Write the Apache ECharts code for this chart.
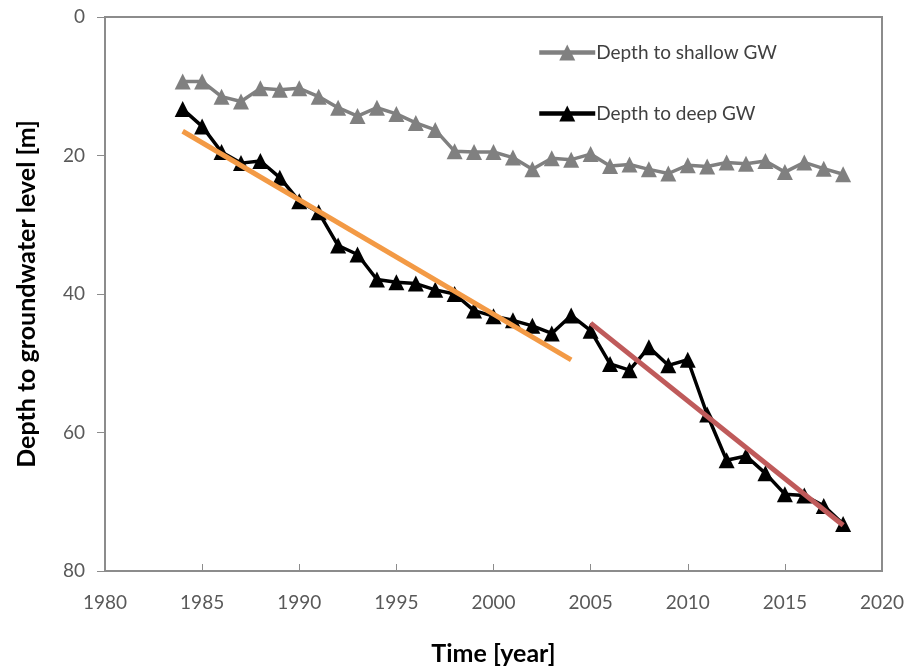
<!DOCTYPE html>
<html>
<head>
<meta charset="utf-8">
<script src="https://cdn.jsdelivr.net/npm/echarts@6/dist/echarts.min.js"></script>
<style>
  html, body { margin: 0; padding: 0; background: #fff; }
  #chart { width: 915px; height: 671px; }
</style>
</head>
<body>
<div id="chart"></div>
<script>
// years of observation
var years = [1984, 1985, 1986, 1987, 1988, 1989, 1990, 1991, 1992, 1993, 1994, 1995,
  1996, 1997, 1998, 1999, 2000, 2001, 2002, 2003, 2004, 2005, 2006, 2007, 2008,
  2009, 2010, 2011, 2012, 2013, 2014, 2015, 2016, 2017, 2018];

// depth to shallow groundwater [m]
var shallowGW = [9.3, 9.3, 11.5, 12.2, 10.3, 10.5, 10.3, 11.5, 13.1, 14.3, 13.1, 14.0,
  15.3, 16.3, 19.4, 19.5, 19.5, 20.3, 22.0, 20.4, 20.6, 19.8, 21.5, 21.3, 22.0,
  22.6, 21.4, 21.6, 21.0, 21.2, 20.8, 22.4, 21.0, 21.9, 22.7];

// depth to deep groundwater [m]
var deepGW = [13.3, 15.8, 19.5, 21.1, 20.8, 23.2, 26.6, 28.2, 33.0, 34.3, 37.9, 38.3,
  38.5, 39.4, 40.0, 42.4, 43.2, 43.8, 44.6, 45.7, 43.1, 45.3, 50.1, 51.0, 47.7,
  50.3, 49.5, 57.4, 64.0, 63.4, 65.9, 68.9, 69.1, 70.6, 73.2];

// linear trend segments (endpoints)
var trendEarly = [[1984, 16.5], [2004, 49.5]];
var trendLate = [[2005, 44.2], [2018, 73.4]];

var yTicks = [0, 20, 40, 60, 80];
var xTicks = [1980, 1985, 1990, 1995, 2000, 2005, 2010, 2015, 2020];

function pairs(xs, ys) {
  return xs.map(function (x, i) { return [x, ys[i]]; });
}

var chart = echarts.init(document.getElementById('chart'));
chart.setOption({
  animation: false,
  backgroundColor: '#fff',
  textStyle: { fontFamily: 'Lato, "Open Sans", sans-serif' },
  grid: {
    left: 105,
    right: 33,
    top: 17,
    bottom: 98,
    show: true,
    borderColor: '#8c8c8c',
    borderWidth: 2
  },
  legend: {
    data: ['Depth to shallow GW', 'Depth to deep GW'],
    orient: 'vertical',
    left: 532,
    top: 38,
    itemGap: 42,
    itemWidth: 56,
    itemHeight: 20,
    lineStyle: { width: 4.5 },
    textStyle: { color: '#404040', fontSize: 19, padding: [0, 0, 0, -4] }
  },
  xAxis: {
    type: 'value',
    min: xTicks[0],
    max: xTicks[xTicks.length - 1],
    interval: 5,
    name: 'Time [year]',
    nameLocation: 'middle',
    nameGap: 70,
    nameTextStyle: { color: '#000', fontSize: 25, fontWeight: 'bold' },
    axisLine: { onZero: false, lineStyle: { color: '#8c8c8c', width: 2 } },
    axisTick: { inside: true, length: 7, lineStyle: { color: '#8c8c8c' } },
    axisLabel: {
      color: '#595959', fontSize: 19, margin: 22,
      formatter: function (v) { return String(v); }
    },
    splitLine: { show: false }
  },
  yAxis: {
    type: 'value',
    inverse: true,
    min: yTicks[0],
    max: yTicks[yTicks.length - 1],
    interval: 20,
    name: 'Depth to groundwater level [m]',
    nameLocation: 'middle',
    nameGap: 66,
    nameTextStyle: { color: '#000', fontSize: 25, fontWeight: 'bold' },
    axisLine: { lineStyle: { color: '#8c8c8c', width: 2 } },
    axisTick: { length: 8, lineStyle: { color: '#8c8c8c' } },
    axisLabel: { color: '#595959', fontSize: 19, margin: 20 },
    splitLine: { show: false }
  },
  series: [
    {
      name: 'Depth to shallow GW',
      type: 'line',
      data: pairs(years, shallowGW),
      symbol: 'triangle',
      symbolSize: 16,
      itemStyle: { color: '#808080' },
      lineStyle: { color: '#808080', width: 3.5 },
      z: 2
    },
    {
      name: 'Depth to deep GW',
      type: 'line',
      data: pairs(years, deepGW),
      symbol: 'triangle',
      symbolSize: 16,
      itemStyle: { color: '#000' },
      lineStyle: { color: '#000', width: 3.5 },
      z: 2
    },
    {
      name: 'trend 1984-2004',
      type: 'line',
      data: trendEarly,
      symbol: 'none',
      lineStyle: { color: '#f39a45', width: 5 },
      z: 3
    },
    {
      name: 'trend 2005-2018',
      type: 'line',
      data: trendLate,
      symbol: 'none',
      lineStyle: { color: '#bf5a5a', width: 5 },
      z: 3
    }
  ]
});
</script>
</body>
</html>
